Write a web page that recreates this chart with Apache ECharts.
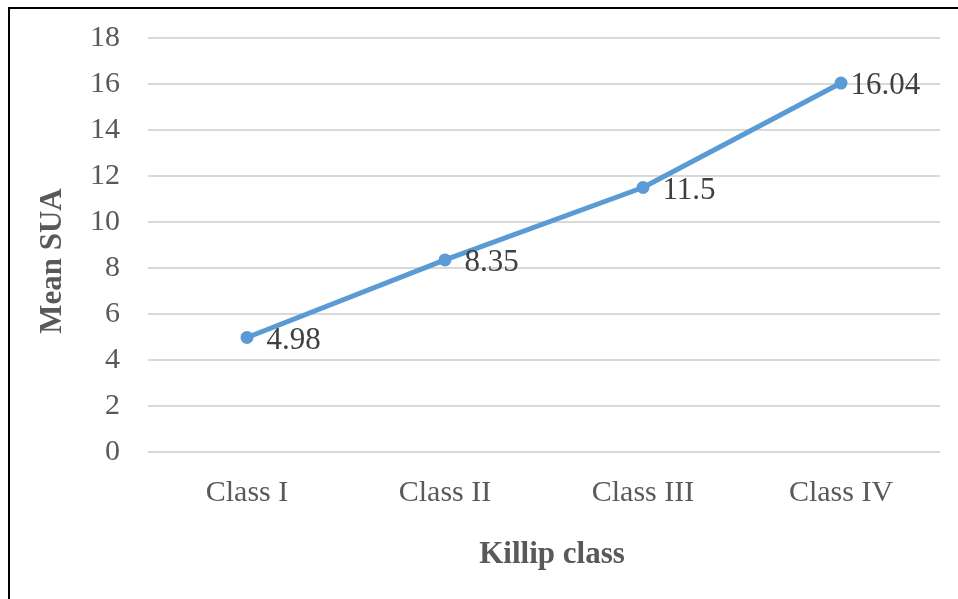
<!DOCTYPE html>
<html>
<head>
<meta charset="utf-8">
<style>
  html, body { margin: 0; padding: 0; background: #fff; }
  #frame { position: absolute; left: 8px; top: 7px; width: 960px; height: 600px;
           border-left: 2px solid #000; border-top: 2px solid #000; box-sizing: border-box; }
  #chart { position: absolute; left: 0; top: 0; width: 958px; height: 599px; }
</style>
<script src="https://cdn.jsdelivr.net/npm/echarts@6/dist/echarts.min.js"></script>
</head>
<body>
<div id="frame"></div>
<div id="chart"></div>
<script>
// Mean SUA by Killip class
const categories = ['Class I', 'Class II', 'Class III', 'Class IV'];
const meanSUA = [4.98, 8.35, 11.5, 16.04];
const yTicks = [0, 2, 4, 6, 8, 10, 12, 14, 16, 18];

const serif = '"Liberation Serif", "Times New Roman", serif';
const chart = echarts.init(document.getElementById('chart'), null, { renderer: 'canvas' });

// last label sits tighter against its marker
const pointData = meanSUA.map((v, i) => (
  i === meanSUA.length - 1 ? { value: v, label: { distance: 3 } } : { value: v }
));

chart.setOption({
  animation: false,
  grid: { left: 148, right: 18, top: 38, bottom: 147, containLabel: false },
  xAxis: {
    type: 'category',
    data: categories,
    boundaryGap: true,
    axisLine: { show: false },
    axisTick: { show: false },
    axisLabel: { fontFamily: serif, fontSize: 30, color: '#595959', margin: 26 },
    name: 'Killip class',
    nameLocation: 'middle',
    nameGap: 87,
    nameTextStyle: { fontFamily: serif, fontSize: 31, fontWeight: 'bold', color: '#595959',
                     padding: [0, 0, 0, 16] }
  },
  yAxis: {
    type: 'value',
    min: yTicks[0],
    max: yTicks[yTicks.length - 1],
    interval: 2,
    axisLine: { show: false },
    axisTick: { show: false },
    splitLine: { lineStyle: { color: '#d9d9d9', width: 2 } },
    axisLabel: { fontFamily: serif, fontSize: 30, color: '#595959', margin: 28 },
    name: 'Mean SUA',
    nameLocation: 'middle',
    nameGap: 80,
    nameTextStyle: { fontFamily: serif, fontSize: 31, fontWeight: 'bold', color: '#595959',
                     padding: [0, 32, 0, 0] }
  },
  series: [{
    type: 'line',
    data: pointData,
    symbol: 'circle',
    symbolSize: 13,
    lineStyle: { color: '#5b9bd5', width: 5 },
    itemStyle: { color: '#5b9bd5' },
    label: {
      show: true,
      position: 'right',
      distance: 13,
      fontFamily: serif,
      fontSize: 31,
      color: '#404040',
      offset: [0, 3]
    }
  }]
});
</script>
</body>
</html>
